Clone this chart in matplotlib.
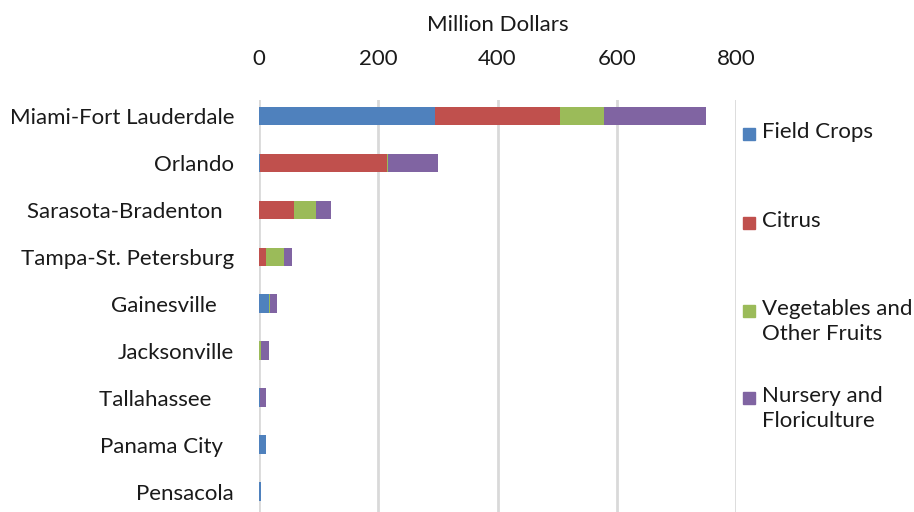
import numpy as np
import matplotlib
matplotlib.use("Agg")
import matplotlib.pyplot as plt
from matplotlib.patches import Rectangle

plt.rcParams['font.family'] = ['Lato', 'DejaVu Sans']

# labels keep the trailing blanks of the source sheet
cities = ["Miami-Fort Lauderdale", "Orlando", "Sarasota-Bradenton  ",
          "Tampa-St. Petersburg", "Gainesville   ", "Jacksonville",
          "Tallahassee    ", "Panama City  ", "Pensacola"]
field_crops = [296, 2, 0, 0, 17, 0, 1, 12, 3]
citrus = [208, 213, 59, 12, 0, 0, 0, 0, 0]
vegetables = [75, 2, 37, 30, 1, 3, 0, 0, 0]
nursery = [171, 83, 25, 13, 13, 14, 11, 0, 1]

series_names = ["Field Crops", "Citrus", "Vegetables and\nOther Fruits",
                "Nursery and\nFloriculture"]
colors = ["#4F81BD", "#C0504D", "#9BBB59", "#8064A2"]
text_color = "#1a1a1a"
fs = 16

fig = plt.figure(figsize=(9.14, 5.12), dpi=100)
ax = fig.add_axes([259 / 914, 0, (736 - 259) / 914, (512 - 100) / 512])

y = np.arange(len(cities))
left = np.zeros(len(cities))
for vals, c in zip([field_crops, citrus, vegetables, nursery], colors):
    ax.barh(y, vals, left=left, height=0.4, color=c, zorder=3)
    left += np.array(vals)

ax.set_xlim(0, 800)
ax.set_ylim(8.43, -0.34)
ax.set_xticks([0, 200, 400, 600, 800])
ax.xaxis.tick_top()
ax.xaxis.set_label_position('top')
ax.set_xlabel("Million Dollars", fontsize=fs, color=text_color, labelpad=13)
ax.set_yticks(y)
ax.set_yticklabels(cities)
ax.tick_params(axis='both', length=0, labelsize=fs, colors=text_color)
ax.tick_params(axis='y', pad=18)
ax.tick_params(axis='x', pad=22)
ax.grid(axis='x', color="#D9D9D9", linewidth=2, zorder=0)
for s in ax.spines.values():
    s.set_visible(False)

# legend drawn by hand so the square sits on the first text line
legend_y = [134, 223, 311, 398]
for name, c, ly in zip(series_names, colors, legend_y):
    fig.patches.append(Rectangle((743 / 914, 1 - (ly + 6) / 512), 12 / 914, 12 / 512,
                                 transform=fig.transFigure, color=c))
    fig.text(762 / 914, 1 - (ly - 12) / 512, name, fontsize=fs, color=text_color,
             va='top', ha='left', linespacing=1.3)

fig.savefig("out.png", dpi=100)
